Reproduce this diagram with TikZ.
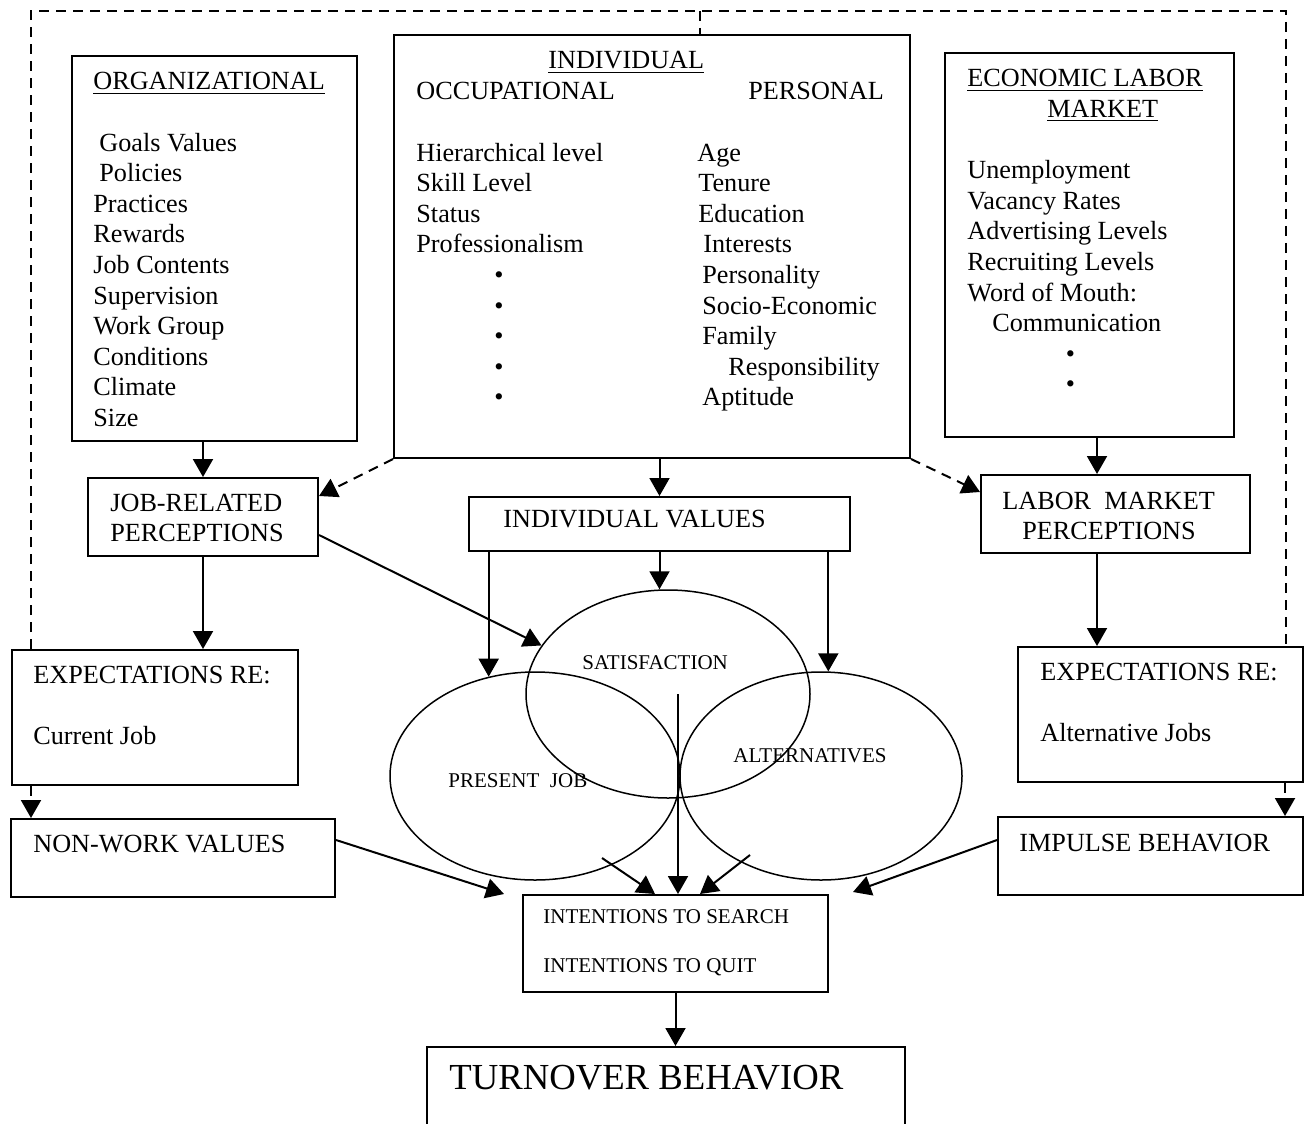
\documentclass[tikz,border=0pt]{standalone}
\usepackage{fontspec}
\setmainfont{Liberation Serif}
\usetikzlibrary{arrows.meta,fit,shapes.geometric}

% a block of left-aligned lines whose baseline is the first line
\newcommand\linesblock[1]{\begin{tabular}[t]{@{}l@{}}#1\end{tabular}}

\tikzset{
  box/.style={draw, line width=1pt, inner sep=0pt},
  oval/.style={draw, ellipse, line width=0.75pt, inner sep=0pt},
  txt/.style={inner sep=0pt, anchor=base west, font=\fontsize{13.1}{15.3}\selectfont},
  small/.style={inner sep=0pt, anchor=base west, font=\fontsize{10.5}{12.3}\selectfont},
  big/.style={inner sep=0pt, anchor=base west, font=\fontsize{18.35}{22}\selectfont},
  arr/.style={line width=1pt, -{Triangle[width=10pt,length=9pt]}},
  darr/.style={arr, dash pattern=on 5pt off 3.5pt},
  frame/.style={line width=0.9pt, dash pattern=on 5pt off 3.5pt},
}

\begin{document}
\begin{tikzpicture}[x=0.5pt, y=-0.5pt]
\useasboundingbox (0,0) rectangle (1304,1123);

% ---------- boxes ----------
\node[box, fit={(72,56) (357,441)}] (org) {};
\node[box, fit={(394,35) (910,458)}] (ind) {};
\node[box, fit={(945,53) (1234,437)}] (econ) {};
\node[box, fit={(88,478) (318,556)}] (jr) {};
\node[box, fit={(469,497) (850,551)}] (iv) {};
\node[box, fit={(981,475) (1250,553)}] (lm) {};
\node[box, fit={(12,650) (298,785)}] (expl) {};
\node[box, fit={(1018,647) (1303,782)}] (expr) {};
\node[box, fit={(11,819) (335,897)}] (nw) {};
\node[box, fit={(998,817) (1303,895)}] (imp) {};
\node[box, fit={(523,895) (828,992)}] (int) {};
\node[box, fit={(427,1047) (905,1140)}] (turn) {};

% ---------- ellipses ----------
\node[oval, minimum width=142pt, minimum height=104pt] (sat) at (668,694) {};
\node[oval, minimum width=145pt, minimum height=104pt] (pj) at (535,776) {};
\node[oval, minimum width=141pt, minimum height=104pt] (alt) at (821,776) {};

% ---------- texts ----------
\node[txt] (org-t) at (93,90) {\linesblock{%
  \underline{ORGANIZATIONAL}\\ \\
  \hspace*{3pt}Goals Values\\
  \hspace*{3pt}Policies\\
  Practices\\ Rewards\\ Job Contents\\ Supervision\\
  Work Group\\ Conditions\\ Climate\\ Size}};

\node[txt] (ind-h) at (548,69) {\underline{INDIVIDUAL}};
\node[txt] (ind-l) at (416,100) {\linesblock{%
  OCCUPATIONAL\\ \\
  Hierarchical level\\ Skill Level\\ Status\\ Professionalism\\
  \hspace*{39pt}\textbullet\\ \hspace*{39pt}\textbullet\\
  \hspace*{39pt}\textbullet\\ \hspace*{39pt}\textbullet\\
  \hspace*{39pt}\textbullet}};
\node[txt] (ind-r) at (697,100) {\linesblock{%
  \hspace*{25.5pt}PERSONAL\\ \\
  Age\\ \hspace*{0.5pt}Tenure\\ \hspace*{0.5pt}Education\\
  \hspace*{3pt}Interests\\ \hspace*{2.5pt}Personality\\
  \hspace*{2.5pt}Socio-Economic\\ \hspace*{2.5pt}Family\\
  \hspace*{15.5pt}Responsibility\\ \hspace*{2.5pt}Aptitude}};

\node[txt] (econ-t) at (967,87) {\linesblock{%
  \underline{ECONOMIC LABOR}\\
  \hspace*{40pt}\underline{MARKET}\\ \\
  Unemployment\\ Vacancy Rates\\ Advertising Levels\\
  Recruiting Levels\\ Word of Mouth:\\
  \hspace*{12.5pt}Communication\\
  \hspace*{49.25pt}\textbullet\\ \hspace*{49.25pt}\textbullet}};

\node[txt] (jr-t) at (110,511) {\linesblock{JOB-RELATED\\ PERCEPTIONS}};
\node[txt] (lm-t) at (1002,509) {\linesblock{LABOR\ \ MARKET\\ \hspace*{10pt}PERCEPTIONS}};
\node[txt] (iv-t) at (503,527) {INDIVIDUAL VALUES};
\node[txt] (expl-t) at (33,683) {\linesblock{EXPECTATIONS RE:\\ \\ Current Job}};
\node[txt] (expr-t) at (1040,680) {\linesblock{EXPECTATIONS RE:\\ \\ Alternative Jobs}};
\node[txt] (nw-t) at (33,852) {NON-WORK VALUES};
\node[txt] (imp-t) at (1019,851) {IMPULSE BEHAVIOR};

\node[small] (sat-t) at (582,669) {SATISFACTION};
\node[small] (pj-t) at (448,787) {PRESENT\ \ JOB};
\node[small] (alt-t) at (733,762) {ALTERNATIVES};
\node[small] (int-t) at (543,923) {\linesblock{INTENTIONS TO SEARCH\\ \\ INTENTIONS TO QUIT}};
\node[big] (turn-t) at (449,1089) {TURNOVER BEHAVIOR};

% ---------- dashed feedback frame ----------
\coordinate (ftop) at (700,11);
\draw[frame] ([xshift=10pt]expl.north west) -- ([xshift=10pt]expl.north west |- ftop)
  -| ([xshift=-9pt]expr.north east);
\draw[frame] (ftop) -- (ftop |- ind.north);

% ---------- connectors ----------
\draw[arr] (org.south -| jr.north) -- (jr.north);
\draw[arr] (jr.south) -- (jr.south |- expl.north);
\draw[darr] ([xshift=10pt]expl.south west) -- ([xshift=10pt]expl.south west |- nw.north);
\draw[darr] (ind.south west) -- ([yshift=-9.5pt]jr.north east);
\draw[darr] (ind.south east) -- ([yshift=-9pt]lm.north west);
\draw[arr] (ind.south -| iv.north) -- (iv.north);
\draw[arr] ([xshift=-9.25pt]lm.north |- econ.south) -- ([xshift=-9.25pt]lm.north);
\draw[arr] ([xshift=-9.25pt]lm.south) -- ([xshift=-9.25pt]lm.south |- expr.north);
\draw[darr] ([xshift=-9.5pt]expr.south east) -- ([xshift=-9.5pt]expr.south east |- imp.north);

\draw[arr] ([yshift=-9pt]jr.east) -- (sat.159);
\draw[arr] (iv.south -| pj.115) -- (pj.115);
\draw[arr] (iv.south) -- (iv.south |- sat.north);
\draw[arr] (iv.south -| alt.86) -- (alt.86);

\coordinate (pjout) at (602,858);
\coordinate (altout) at (750,855);
\draw[arr] ([xshift=1.25pt]int.north |- sat.center) -- ([xshift=1.25pt]int.north);
\draw[arr] (pjout) -- ([xshift=-10.25pt]int.north);
\draw[arr] (altout) -- ([xshift=12.25pt]int.north);
\draw[arr] ([yshift=9pt]nw.east) -- ([xshift=-9pt]int.north west);
\draw[arr] ([yshift=8pt]imp.west) -- ([xshift=12pt,yshift=1pt]int.north east);
\draw[arr] (int.south) -- (int.south |- turn.north);
\end{tikzpicture}
\end{document}
